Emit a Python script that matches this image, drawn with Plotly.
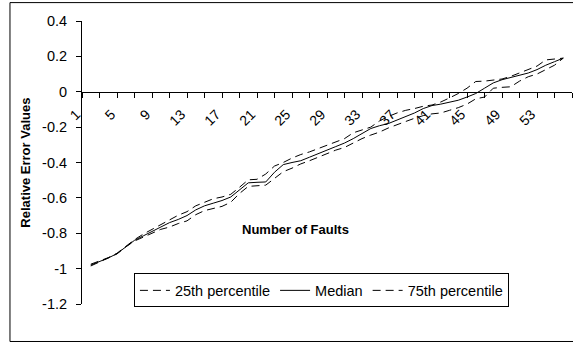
import plotly.graph_objects as go

faults = list(range(1, 56))

median = [-0.980, -0.960, -0.940, -0.915, -0.875, -0.840, -0.815, -0.790, -0.765, -0.740,
          -0.722, -0.700, -0.668, -0.645, -0.630, -0.615, -0.595, -0.555, -0.515, -0.512,
          -0.510, -0.455, -0.412, -0.400, -0.390, -0.370, -0.348, -0.330, -0.310, -0.290,
          -0.265, -0.235, -0.208, -0.192, -0.180, -0.160, -0.140, -0.120, -0.095, -0.078,
          -0.070, -0.060, -0.048, -0.030, -0.010, 0.020, 0.050, 0.068, 0.082, 0.095,
          0.106, 0.125, 0.150, 0.170, 0.190]

p75 = [-0.975, -0.958, -0.938, -0.913, -0.873, -0.836, -0.805, -0.778, -0.750, -0.722,
       -0.698, -0.678, -0.645, -0.625, -0.605, -0.595, -0.580, -0.540, -0.498, -0.495,
       -0.465, -0.420, -0.400, -0.375, -0.355, -0.340, -0.322, -0.305, -0.285, -0.265,
       -0.232, -0.215, -0.200, -0.165, -0.140, -0.120, -0.105, -0.095, -0.082, -0.075,
       -0.058, -0.035, -0.010, 0.020, 0.058, 0.060, 0.065, 0.072, 0.087, 0.105,
       0.125, 0.145, 0.180, 0.185, 0.190]

p25 = [-0.985, -0.963, -0.942, -0.917, -0.877, -0.844, -0.822, -0.800, -0.778, -0.765,
       -0.745, -0.730, -0.695, -0.672, -0.660, -0.648, -0.625, -0.575, -0.535, -0.530,
       -0.528, -0.490, -0.452, -0.432, -0.408, -0.390, -0.372, -0.350, -0.330, -0.315,
       -0.290, -0.265, -0.245, -0.228, -0.205, -0.185, -0.168, -0.150, -0.135, -0.125,
       -0.120, -0.105, -0.090, -0.070, -0.040, -0.030, 0.020, 0.025, 0.028, 0.060,
       0.085, 0.100, 0.125, 0.150, 0.190]

x_labels = [1, 5, 9, 13, 17, 21, 25, 29, 33, 37, 41, 45, 49, 53]
y_ticks = [0.4, 0.2, 0, -0.2, -0.4, -0.6, -0.8, -1, -1.2]
y_text = ["0.4", "0.2", "0", "-0.2", "-0.4", "-0.6", "-0.8", "-1", "-1.2"]

FONT = "Arial, Liberation Sans, sans-serif"
DASH = "8px,5px"

fig = go.Figure()
fig.add_trace(go.Scatter(x=faults, y=p25, mode="lines", name="25th percentile",
                         line=dict(color="black", width=1, dash=DASH)))
fig.add_trace(go.Scatter(x=faults, y=median, mode="lines", name="Median",
                         line=dict(color="black", width=1)))
fig.add_trace(go.Scatter(x=faults, y=p75, mode="lines", name="75th percentile",
                         line=dict(color="black", width=1, dash=DASH)))

fig.update_layout(
    width=573, height=343,
    margin=dict(l=82, r=1, t=21, b=39, pad=0),
    paper_bgcolor="white", plot_bgcolor="white",
    font=dict(family=FONT, size=14, color="black"),
    showlegend=True,
    legend=dict(orientation="h", x=0.106, xanchor="left", y=0.108, yanchor="top",
                bordercolor="black", borderwidth=1, bgcolor="white",
                font=dict(size=14.5), traceorder="normal"),
    xaxis=dict(range=[0, 56], showline=True, linecolor="black", linewidth=1,
               anchor="free", position=0.75, showgrid=False, zeroline=False,
               tickmode="array", tickvals=[v - 0.5 for v in x_labels],
               ticktext=[str(v) for v in x_labels], tickangle=-45, ticks="",
               tickfont=dict(size=14), ticklabelstandoff=8, ticklabelshift=-10,
               minor=dict(tickmode="linear", tick0=0, dtick=2, ticks="outside",
                          ticklen=5, tickcolor="black", tickwidth=1, showgrid=False)),
    yaxis=dict(range=[-1.2, 0.4], showline=True, linecolor="black", linewidth=1,
               showgrid=False, zeroline=False, tickmode="array", tickvals=y_ticks,
               ticktext=y_text, ticks="outside", ticklen=5, tickcolor="black",
               tickfont=dict(size=14.5), ticklabelstandoff=6),
    annotations=[
        dict(text="<b>Relative Error Values</b>", textangle=-90, x=-0.116, y=0.5,
             xref="paper", yref="paper", showarrow=False, font=dict(size=13),
             xanchor="center", yanchor="middle"),
        dict(text="<b>Number of Faults</b>", x=0.435, y=0.262,
             xref="paper", yref="paper", showarrow=False, font=dict(size=13),
             xanchor="center", yanchor="middle"),
    ],
    shapes=[dict(type="rect", xref="paper", yref="paper", x0=-0.147, x1=1.1,
                 y0=-0.1325, y1=1.065, line=dict(color="black", width=1),
                 fillcolor="rgba(0,0,0,0)", layer="above")],
)

fig.write_html("out.html", config={"displayModeBar": False},
               post_script="document.body.style.margin='0px';")
